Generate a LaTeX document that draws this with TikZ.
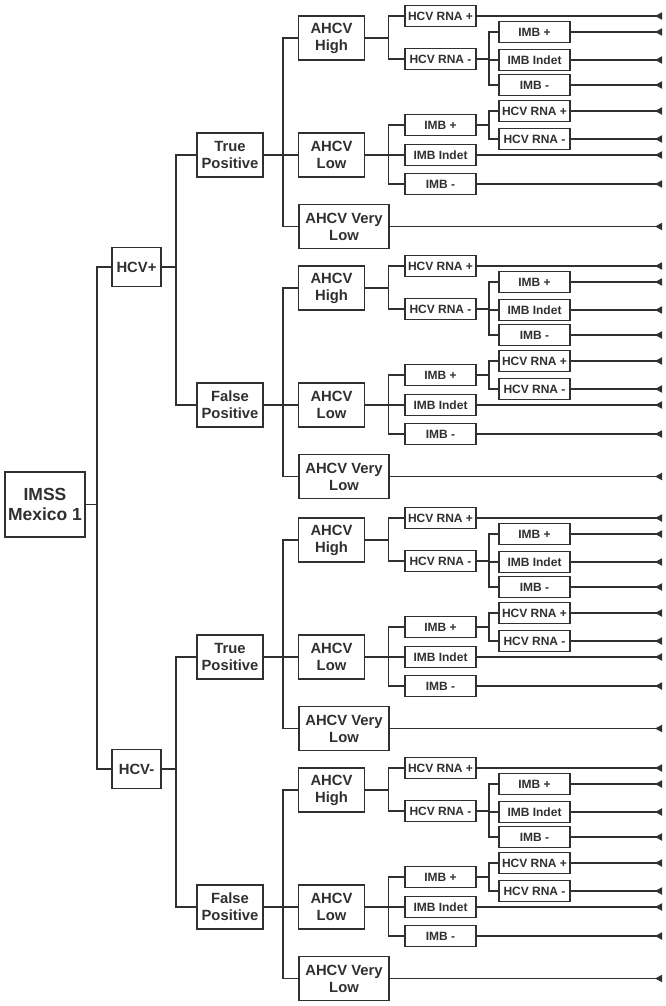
\documentclass[tikz,border=0pt]{standalone}
\usepackage{fontspec}
\setmainfont{Liberation Sans}
\usetikzlibrary{arrows.meta,positioning}
\definecolor{TreeInk}{HTML}{303030}

\begin{document}
\begin{tikzpicture}[x=1pt,y=-1pt,
  n/.style={draw=TreeInk,line width=1.8pt,fill=white,text=TreeInk,align=center,inner sep=0pt},
  big/.style={n,minimum width=80pt,minimum height=65pt,font=\bfseries\fontsize{17.5}{20.5}\selectfont},
  mid/.style={n,minimum width=66pt,minimum height=44pt,font=\bfseries\fontsize{14.8}{17}\selectfont},
  sm/.style={n,minimum width=71pt,minimum height=21pt,font=\bfseries\fontsize{12}{14}\selectfont},
  link/.style={draw=TreeInk,line width=1.8pt},
  leaf/.style={link,-{Triangle[reversed,length=7pt,width=7pt]}}]
\useasboundingbox (0,0) rectangle (666,1006);
\coordinate (rim) at (662,0);
\node[big] (root) at (45,504.5) {IMSS\\Mexico 1};
\node[mid,minimum width=49pt,minimum height=39pt] (hcvp) at (136.5,267) {HCV+};
\node[mid,minimum width=49pt,minimum height=39pt] (hcvn) at (136.5,769) {HCV-};
\draw[link] (root.east) -- ++(11,0) |- (hcvp.west);
\draw[link] (root.east) -- ++(11,0) |- (hcvn.west);
% four identical sub-trees
\foreach \i/\b/\res in {1/0/True,2/250/False,3/502/True,4/752/False}{
  \node[mid] (t\i) at (230,\b+155) {\res\\Positive};
  \node[mid] (hi\i) at (331.5,\b+38) {AHCV\\High};
  \node[mid] (lo\i) at (331.5,\b+155) {AHCV\\Low};
  \node[mid,minimum width=90pt] (vl\i) at (344,\b+226.5) {AHCV Very\\Low};
  \node[sm] (rp\i) at (440.5,\b+16) {HCV RNA +};
  \node[sm] (rn\i) at (440.5,\b+59) {HCV RNA -};
  \node[sm] (mp\i) at (440.5,\b+125) {IMB +};
  \node[sm] (mi\i) at (440.5,\b+155) {IMB Indet};
  \node[sm] (mn\i) at (440.5,\b+184) {IMB -};
  \node[sm] (rnmp\i) at (534.5,\b+32) {IMB +};
  \node[sm] (rnmi\i) at (534.5,\b+60) {IMB Indet};
  \node[sm] (rnmn\i) at (534.5,\b+85) {IMB -};
  \node[sm] (mprp\i) at (534.5,\b+111) {HCV RNA +};
  \node[sm] (mprn\i) at (534.5,\b+139) {HCV RNA -};
  \foreach \c in {hi,lo,vl} \draw[link] (t\i.east) -- ++(19,0) |- (\c\i.west);
  \foreach \c in {rp,rn} \draw[link] (hi\i.east) -- ++(23,0) |- (\c\i.west);
  \foreach \c in {mp,mi,mn} \draw[link] (lo\i.east) -- ++(23,0) |- (\c\i.west);
  \foreach \c in {rnmp,rnmi,rnmn} \draw[link] (rn\i.east) -- ++(12,0) |- (\c\i.west);
  \foreach \c in {mprp,mprn} \draw[link] (mp\i.east) -- ++(12,0) |- (\c\i.west);
  \foreach \c in {vl,rp,mi,mn,rnmp,rnmi,rnmn,mprp,mprn}
    \draw[leaf] (\c\i.east) -- (\c\i.east -| rim);
}
\draw[link] (hcvp.east) -- ++(14,0) |- (t1.west);
\draw[link] (hcvp.east) -- ++(14,0) |- (t2.west);
\draw[link] (hcvn.east) -- ++(14,0) |- (t3.west);
\draw[link] (hcvn.east) -- ++(14,0) |- (t4.west);
\end{tikzpicture}
\end{document}
